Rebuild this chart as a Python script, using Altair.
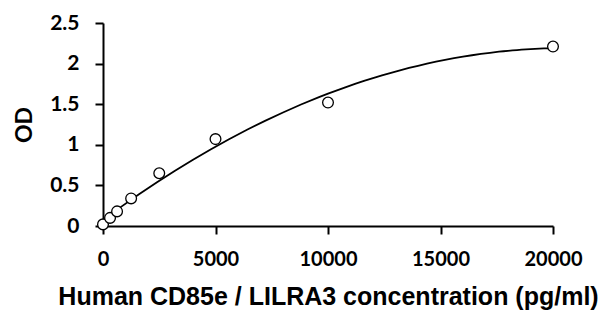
import altair as alt
import pandas as pd

conc = [0, 312.5, 625, 1250, 2500, 5000, 10000, 20000]
od = [0.02, 0.10, 0.18, 0.34, 0.65, 1.07, 1.52, 2.21]

df = pd.DataFrame({"conc": conc, "od": od})

LFONT = "Lato"
TFONT = "Liberation Sans"

x = alt.X("conc:Q", title="Human CD85e / LILRA3 concentration (pg/ml)",
          scale=alt.Scale(domain=[0, 20000], nice=False),
          axis=alt.Axis(values=[0, 5000, 10000, 15000, 20000], format="d", labelFlush=False,
                        labelPadding=15, titlePadding=15, titleFont=TFONT, titleFontSize=25))
y = alt.Y("od:Q", title="OD",
          scale=alt.Scale(domain=[0, 2.5], nice=False),
          axis=alt.Axis(values=[0, 0.5, 1, 1.5, 2, 2.5], labelExpr="datum.value + ''",
                        labelPadding=16, titlePadding=13, titleFont=LFONT, titleFontSize=23,
                        labelFontSize=21))

base = alt.Chart(df)

curve = base.transform_regression("conc", "od", method="poly", order=2, extent=[0, 20000]).mark_line(
    color="black", strokeWidth=1.8
).encode(x=x, y=y)

pts = base.mark_point(shape="circle", filled=True, fill="white", stroke="black",
                      strokeWidth=1.3, size=115, opacity=1).encode(x=x, y=y)

chart = (curve + pts).properties(
    width=450, height=203,
    autosize=alt.AutoSizeParams(type="none"),
    padding={"left": 95, "top": 15, "right": 45, "bottom": 92},
).configure_view(
    stroke=None
).configure_axis(
    grid=False, domainColor="black", domainWidth=2, tickColor="black", tickWidth=2, tickSize=8,
    labelFont=LFONT, labelFontSize=20, labelFontWeight="bold", labelColor="black",
    titleFontWeight="bold", titleColor="black",
)

chart.save("out.html", embed_options={"renderer": "svg", "actions": False})
